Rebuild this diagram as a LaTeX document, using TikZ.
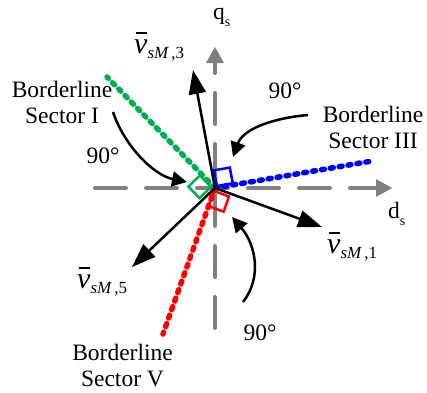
\documentclass[tikz,border=0pt]{standalone}
\usepackage{fontspec}
\setmainfont{Liberation Serif}
\usetikzlibrary{arrows.meta}
\definecolor{axisgray}{RGB}{128,128,128}
\definecolor{bgreen}{RGB}{0,176,80}
\definecolor{bblue}{RGB}{0,0,255}
\definecolor{bred}{RGB}{255,0,0}
\newcommand\vlab[1]{\fontsize{30}{30}\selectfont\itshape\rlap{\hspace{1.5pt}\rule[19.5pt]{11.5pt}{1.8pt}}v\raisebox{-5pt}{\fontsize{17}{17}\selectfont sM\upshape\hspace{3pt},#1}}
\newcommand\subs[1]{\raisebox{-7pt}{\fontsize{14}{14}\selectfont #1}}
\begin{document}
\begin{tikzpicture}[x=1pt,y=-1pt,
  axisline/.style={draw=axisgray,line width=4pt,line cap=round,dash pattern=on 31pt off 20pt,
    -{Triangle[length=16pt,width=18pt,fill=axisgray,line width=0pt]}},
  border/.style={line width=5.5pt,line cap=round,dash pattern=on 3pt off 6pt},
  sqmark/.style={line width=2.5pt,line join=miter},
  vec/.style={draw=black,line width=2.5pt,-{Triangle[length=24pt,width=17pt]}},
  curvearrow/.style={draw=black,line width=2.5pt,-{Triangle[length=15pt,width=15pt]}},
  lbl/.style={inner sep=0pt,font=\fontsize{23.5}{26}\selectfont,align=center,anchor=base},
  txt/.style={inner sep=0pt,font=\fontsize{23.5}{26}\selectfont}]
\useasboundingbox (0,0) rectangle (427,392);
% coordinates
\coordinate (O) at (215,188);
\coordinate (dstart) at (95,188);
\coordinate (dend) at (392,188);
\coordinate (qstart) at (215,328);
\coordinate (qend) at (215,47);
\coordinate (v1) at (322,227);
\coordinate (v3) at (193,70);
\coordinate (v5) at (132,267);
\coordinate (b1) at (107,77);
\coordinate (b3) at (372,161);
\coordinate (b5) at (163,334);
% axes
\draw[axisline] (dstart) -- (dend);
\draw[axisline] (qstart) -- (qend);
% borderlines
\draw[border,bgreen] (O) -- (b1);
\draw[border,bblue] (O) -- (b3);
\draw[border,bred] (O) -- (b5);
% right-angle marks
\draw[sqmark,bblue] (217,186) -- (232.8,183.3) -- (229.8,167.6) -- (214.1,170.3) -- cycle;
\draw[sqmark,bred] (214,191) -- (229,196.5) -- (223.7,211.6) -- (208.6,206.1) -- cycle;
\draw[sqmark,bgreen] (211,187) -- (199.9,175.5) -- (188.4,186.6) -- (199.5,198.1) -- cycle;
% vectors
\draw[vec] (O) -- (v1);
\draw[vec] (O) -- (v3);
\draw[vec] (O) -- (v5);
% curved arrows
\coordinate (c1s) at (113,112); \coordinate (c1e) at (187,182);
\coordinate (c2s) at (308,115); \coordinate (c2e) at (233,157);
\coordinate (c3s) at (243,302); \coordinate (c3e) at (232,217);
\draw[curvearrow] (c1s) .. controls (124,145) and (153,175) .. (c1e);
\draw[curvearrow] (c2s) .. controls (273,118) and (243,129) .. (c2e);
\draw[curvearrow] (c3s) .. controls (262,278) and (256,245) .. (c3e);
% labels
\node[txt,anchor=base west] (qlab) at (213,19.5) {q\subs{s}};
\node[txt,anchor=base west] (dlab) at (388,218) {d\subs{s}};
\node[inner sep=0pt,anchor=base west] (lv3) at (134,53) {\vlab{3}};
\node[inner sep=0pt,anchor=base west] (lv1) at (327,253) {\vlab{1}};
\node[inner sep=0pt,anchor=base west] (lv5) at (77,288) {\vlab{5}};
\node[lbl] (s1) at (62,123.3) {Borderline\\Sector I};
\node[lbl] (s3) at (373,148.5) {Borderline\\Sector III};
\node[lbl] (s5) at (122.5,386) {Borderline\\Sector V};
\node[txt,anchor=base] (a1) at (103,163) {90°};
\node[txt,anchor=base] (a3) at (285,98) {90°};
\node[txt,anchor=base] (a5) at (260,340) {90°};
\end{tikzpicture}
\end{document}
